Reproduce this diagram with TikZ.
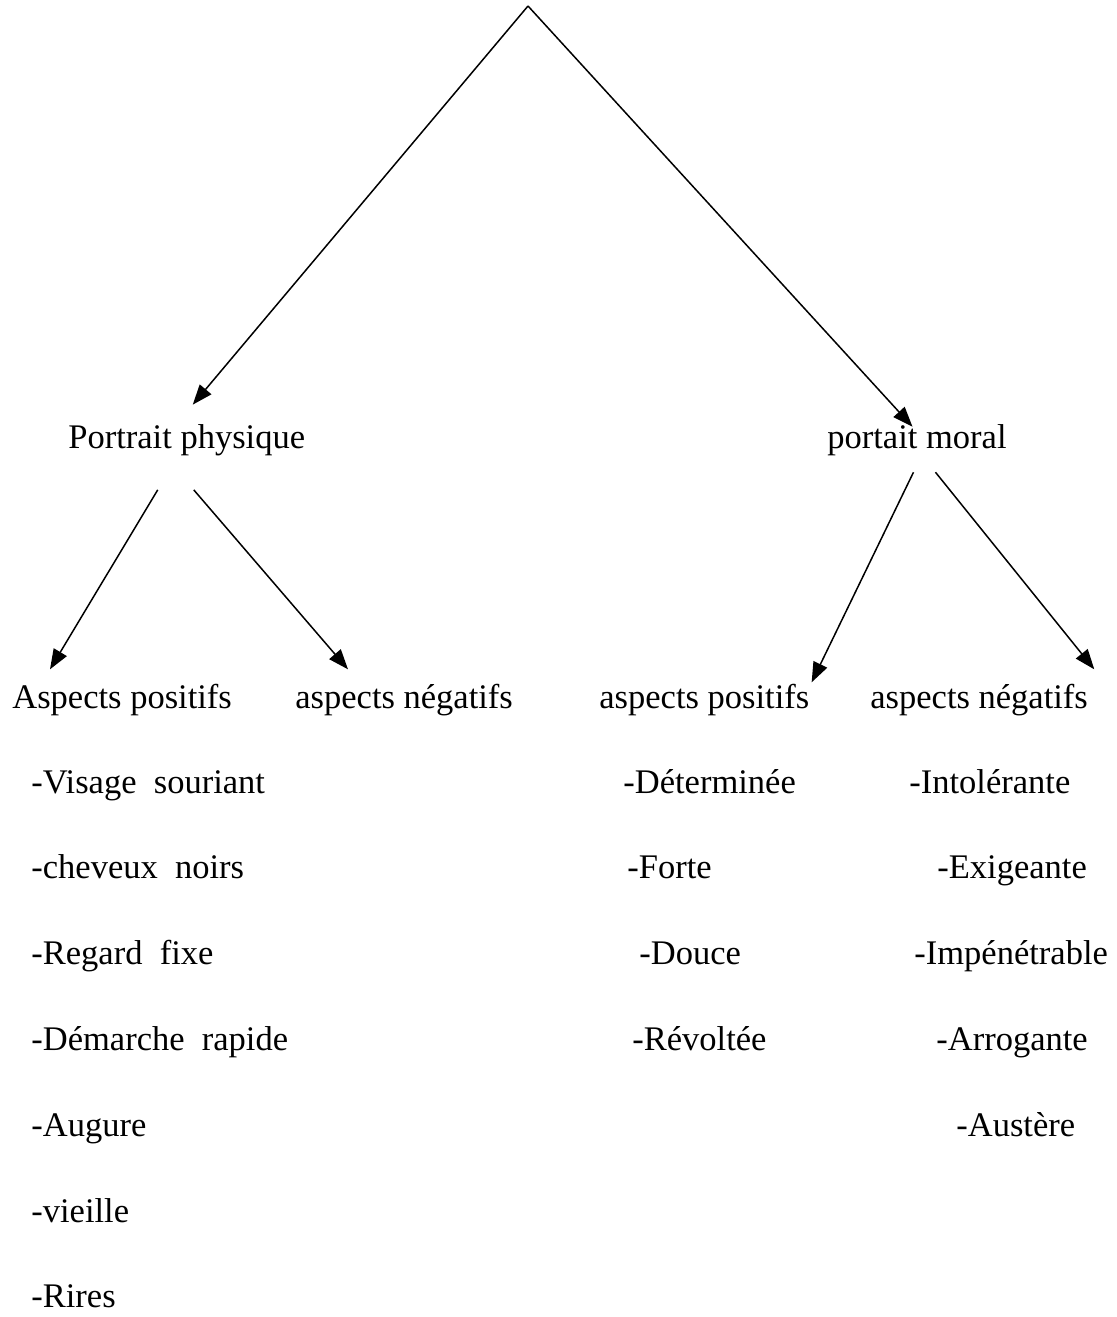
\documentclass[tikz,border=0pt]{standalone}
\usepackage{fontspec}
\setmainfont{Liberation Serif}
\usetikzlibrary{arrows.meta}

\begin{document}
\begin{tikzpicture}[x=0.5pt, y=-0.5pt,
  font=\fontsize{17.25}{20}\selectfont,
  entry/.style={anchor=base west, inner sep=0pt},
  link/.style={->, >={Triangle[length=10pt,width=7.5pt]}, line width=0.75pt}]
\useasboundingbox (0,0) rectangle (1116,1317);
\coordinate (top) at (528,6);
\node[entry] (physique) at (68,448) {Portrait physique};
\node[entry] (moral) at (827,448) {portait moral};
\node[entry] (physpos) at (12,708) {Aspects positifs};
\node[entry] (physneg) at (295,708) {aspects négatifs};
\node[entry] (morpos) at (599,708) {aspects positifs};
\node[entry] (morneg) at (870,708) {aspects négatifs};
% arrows
\draw[link] (top) -- ([xshift=3pt,yshift=9.5pt]physique.north);
\draw[link] (top) -- ([xshift=-2.25pt,yshift=-1.5pt]moral.north);
\draw[link] ([xshift=-14.5pt,yshift=-17pt]physique.south) -- ([xshift=19pt,yshift=7pt]physpos.north west);
\draw[link] ([xshift=3.5pt,yshift=-17pt]physique.south) -- ([xshift=26.5pt,yshift=7pt]physneg.north west);
\draw[link] ([xshift=-1.75pt,yshift=-8.25pt]moral.south) -- ([xshift=1pt,yshift=0.5pt]morpos.north east);
\draw[link] ([xshift=9.25pt,yshift=-8.25pt]moral.south) -- ([xshift=3pt,yshift=7pt]morneg.north east);
% lists
\foreach \t [count=\i] in {-Visage\ \ souriant, -cheveux\ \ noirs, -Regard\ \ fixe,
  -Démarche\ \ rapide, -Augure, -vieille, -Rires}
 \node[entry] (physpos-\i) at (31,{793+85.83*(\i-1)}) {\t};
\foreach \x/\t [count=\i] in {623/-Déterminée, 627/-Forte, 639/-Douce, 632/-Révoltée}
 \node[entry] (morpos-\i) at (\x,{793+85.83*(\i-1)}) {\t};
\foreach \x/\t [count=\i] in {909/-Intolérante, 937/-Exigeante, 914/-Impénétrable,
  936/-Arrogante, 956/-Austère}
 \node[entry] (morneg-\i) at (\x,{793+85.83*(\i-1)}) {\t};
\end{tikzpicture}
\end{document}
